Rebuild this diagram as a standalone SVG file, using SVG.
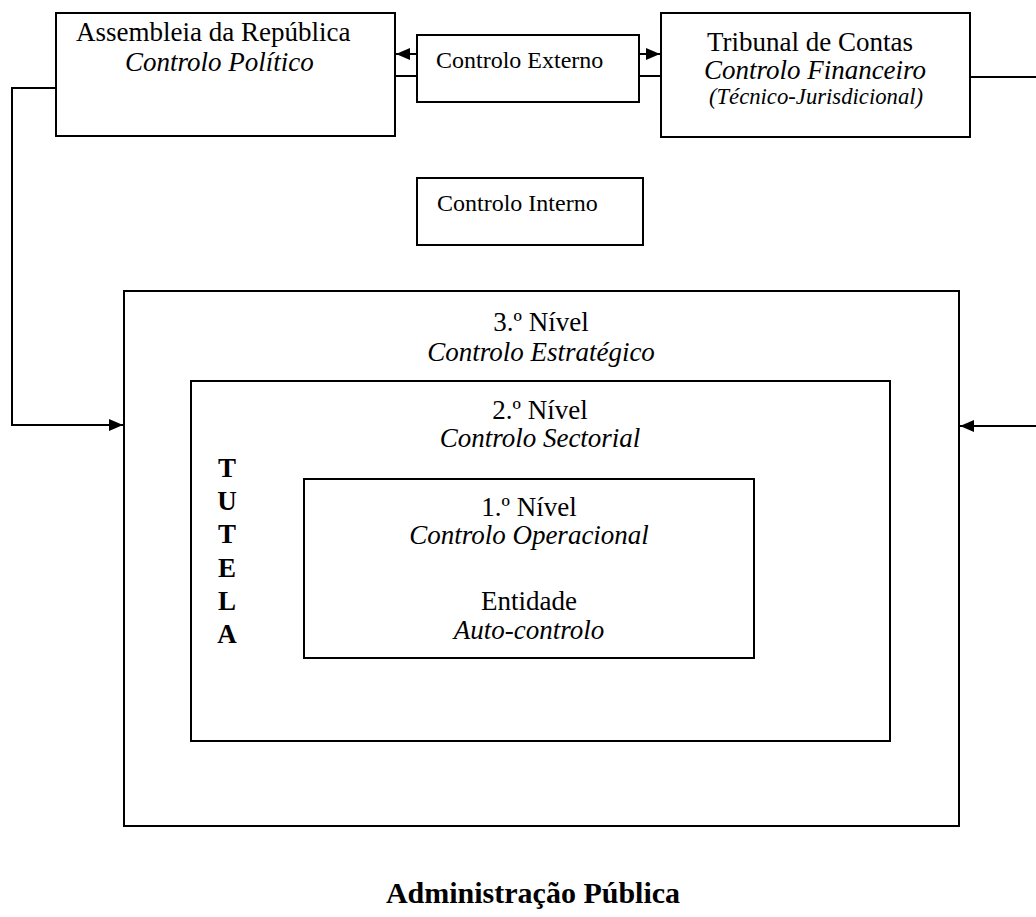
<svg xmlns="http://www.w3.org/2000/svg" width="1036" height="917" viewBox="0 0 1036 917">
<style>
.box{fill:none;stroke:#000;stroke-width:2}
.ln{fill:none;stroke:#000;stroke-width:2}
text{font-family:"Liberation Serif","Times New Roman",serif;fill:#000;font-size:27px}
.it{font-style:italic}
.sm{font-size:24px}
.xs{font-size:22.7px}
.b{font-weight:bold}
.c{text-anchor:middle}
</style>
<defs>
<marker id="ah" markerWidth="14" markerHeight="12" refX="14" refY="6" orient="auto" markerUnits="userSpaceOnUse">
<path d="M0,0 L14,6 L0,12 Z" fill="#000"/>
</marker>
</defs>
<rect width="1036" height="917" fill="#fff"/>
<g id="connectors">
<path class="ln" d="M56,88 H12 V425 H123" marker-end="url(#ah)"/>
<path class="ln" d="M970,77 H1040 V426 H960" marker-end="url(#ah)"/>
<path class="ln" d="M417,54 H396" marker-end="url(#ah)"/>
<path class="ln" d="M395,76 H417"/>
<path class="ln" d="M639,54 H660" marker-end="url(#ah)"/>
<path class="ln" d="M639,76 H661"/>
</g>
<g id="assembleia">
<rect class="box" x="56" y="13" width="339" height="123"/>
<text x="76" y="41">Assembleia da República</text>
<text class="it" x="125" y="71">Controlo Político</text>
</g>
<g id="externo">
<rect class="box" x="417" y="35" width="222" height="67"/>
<text class="sm" x="436" y="68">Controlo Externo</text>
</g>
<g id="tribunal">
<rect class="box" x="661" y="13" width="309" height="124"/>
<text x="707" y="51">Tribunal de Contas</text>
<text class="it c" x="815" y="79">Controlo Financeiro</text>
<text class="it xs c" x="816" y="104">(Técnico-Jurisdicional)</text>
</g>
<g id="interno">
<rect class="box" x="417" y="178" width="226" height="67"/>
<text class="sm" x="437" y="211">Controlo Interno</text>
</g>
<g id="nivel3">
<rect class="box" x="124" y="291" width="835" height="535"/>
<text class="c" x="541" y="331">3.º Nível</text>
<text class="it c" x="541" y="361">Controlo Estratégico</text>
</g>
<g id="nivel2">
<rect class="box" x="191" y="381" width="699" height="360"/>
<text class="c" x="540" y="419">2.º Nível</text>
<text class="it c" x="540" y="447">Controlo Sectorial</text>
</g>
<g id="tutela">
<text class="b c" x="227" y="477">T</text>
<text class="b c" x="227" y="510">U</text>
<text class="b c" x="227" y="543">T</text>
<text class="b c" x="227" y="577">E</text>
<text class="b c" x="227" y="610">L</text>
<text class="b c" x="227" y="643">A</text>
</g>
<g id="nivel1">
<rect class="box" x="304" y="479" width="450" height="179"/>
<text class="c" x="529" y="516">1.º Nível</text>
<text class="it c" x="529" y="544">Controlo Operacional</text>
<text class="c" x="529" y="610">Entidade</text>
<text class="it c" x="529" y="639">Auto-controlo</text>
</g>
<g id="administracao">
<text class="b c" x="533" y="903" style="font-size:30px">Administração Pública</text>
</g>
</svg>
